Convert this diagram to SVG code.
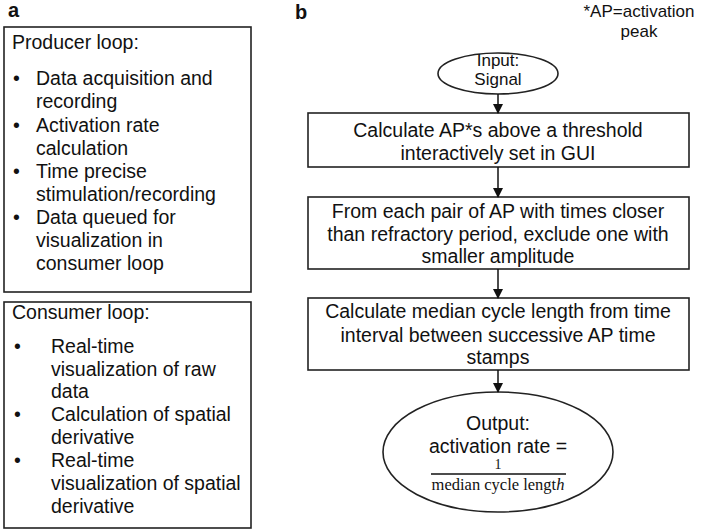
<svg xmlns="http://www.w3.org/2000/svg" width="706" height="530" viewBox="0 0 706 530">
<style>
  .t { font-family: "Liberation Sans", Arial, sans-serif; font-size: 19.5px; fill: #111; }
  .s { font-size: 17px; }
  .c { text-anchor: middle; }
  .lbl { font-family: "Liberation Sans", Arial, sans-serif; font-size: 20px; font-weight: bold; fill: #111; }
  .box { fill: #fff; stroke: #222; stroke-width: 1.6; }
  .edge { stroke: #111; stroke-width: 1.5; fill: none; marker-end: url(#ah); }
  .m { font-family: "Liberation Serif", "Times New Roman", serif; font-size: 16.5px; fill: #111; text-anchor: middle; }
</style>
<defs>
  <marker id="ah" markerWidth="10" markerHeight="10" refX="9" refY="5" orient="auto" markerUnits="userSpaceOnUse">
    <path d="M0,0 L10,5 L0,10 Z" fill="#111"/>
  </marker>
</defs>
<rect width="706" height="530" fill="#fff"/>

<text class="lbl" x="8" y="17">a</text>
<text class="lbl" x="295" y="19">b</text>

<g id="producer">
  <rect class="box" x="4" y="27" width="247" height="265"/>
  <text class="t" x="12" y="49">Producer loop:</text>
  <text class="t" x="13" y="85">•</text>
  <text class="t" x="36" y="85">Data acquisition and</text>
  <text class="t" x="36" y="108">recording</text>
  <text class="t" x="13" y="132">•</text>
  <text class="t" x="36" y="132">Activation rate</text>
  <text class="t" x="36" y="155">calculation</text>
  <text class="t" x="13" y="178">•</text>
  <text class="t" x="36" y="178">Time precise</text>
  <text class="t" x="36" y="201">stimulation/recording</text>
  <text class="t" x="13" y="224">•</text>
  <text class="t" x="36" y="224">Data queued for</text>
  <text class="t" x="36" y="247">visualization in</text>
  <text class="t" x="36" y="270">consumer loop</text>
</g>

<g id="consumer">
  <rect class="box" x="4" y="302" width="247" height="226"/>
  <text class="t" x="12" y="319">Consumer loop:</text>
  <text class="t" x="14" y="353">•</text>
  <text class="t" x="51" y="353">Real-time</text>
  <text class="t" x="51" y="376">visualization of raw</text>
  <text class="t" x="51" y="398">data</text>
  <text class="t" x="14" y="421">•</text>
  <text class="t" x="51" y="421">Calculation of spatial</text>
  <text class="t" x="51" y="444">derivative</text>
  <text class="t" x="14" y="467">•</text>
  <text class="t" x="51" y="467">Real-time</text>
  <text class="t" x="51" y="490">visualization of spatial</text>
  <text class="t" x="51" y="513">derivative</text>
</g>

<g id="note">
  <text class="t s c" x="639" y="17">*AP=activation</text>
  <text class="t s c" x="639" y="37">peak</text>
</g>

<g id="input">
  <ellipse class="box" cx="498" cy="73.5" rx="60" ry="20.5"/>
  <text class="t s c" x="498" y="66">Input:</text>
  <text class="t s c" x="498" y="85">Signal</text>
</g>

<g id="step1">
  <rect class="box" x="308" y="113" width="381" height="54"/>
  <text class="t c" x="498" y="137">Calculate AP*s above a threshold</text>
  <text class="t c" x="498" y="160">interactively set in GUI</text>
</g>

<g id="step2">
  <rect class="box" x="308" y="197" width="381" height="72"/>
  <text class="t c" x="498" y="218">From each pair of AP with times closer</text>
  <text class="t c" x="498" y="241">than refractory period, exclude one with</text>
  <text class="t c" x="498" y="263">smaller amplitude</text>
</g>

<g id="step3">
  <rect class="box" x="308" y="298" width="381" height="72"/>
  <text class="t c" x="498" y="318">Calculate median cycle length from time</text>
  <text class="t c" x="498" y="342">interval between successive AP time</text>
  <text class="t c" x="498" y="364">stamps</text>
</g>

<g id="output">
  <ellipse class="box" cx="498" cy="452" rx="115" ry="60"/>
  <text class="t c" x="498" y="430">Output:</text>
  <text class="t c" x="498" y="453">activation rate =</text>
  <text class="m" x="498" y="469" style="font-size:14px">1</text>
  <line x1="431" y1="474" x2="566" y2="474" stroke="#111" stroke-width="1.3"/>
  <text class="m" x="498" y="490">median cycle lengt<tspan font-style="italic">h</tspan></text>
</g>

<g id="connectors">
  <line class="edge" x1="498" y1="94" x2="498" y2="113"/>
  <line class="edge" x1="498" y1="167" x2="498" y2="197"/>
  <line class="edge" x1="498" y1="269" x2="498" y2="298"/>
  <line class="edge" x1="498" y1="370" x2="498" y2="392"/>
</g>
</svg>
